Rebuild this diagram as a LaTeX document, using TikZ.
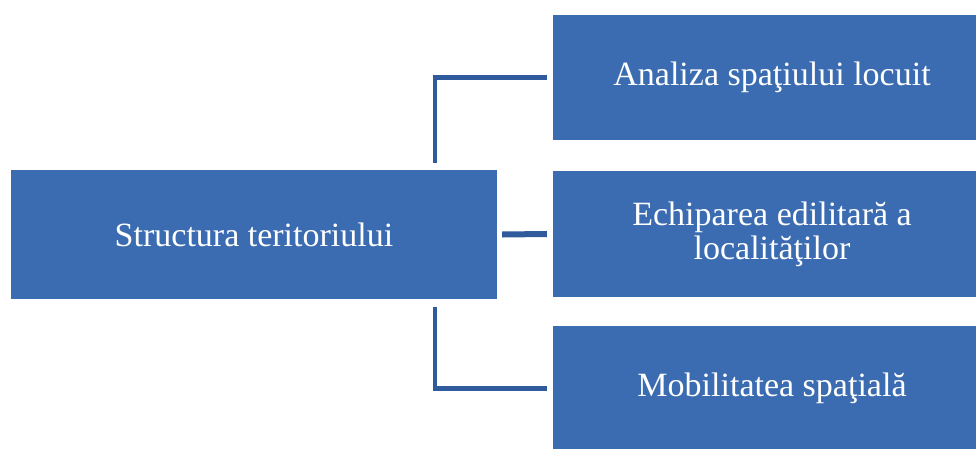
\documentclass[tikz,border=0pt]{standalone}
\usepackage{fontspec}
\setmainfont{Liberation Serif}
\definecolor{boxblue}{RGB}{59,108,177}
\definecolor{lineblue}{RGB}{47,90,155}
\begin{document}
\begin{tikzpicture}[x=1pt,y=-1pt,
  box/.style={fill=boxblue, draw=none, text=white, font=\fontsize{34}{34}\selectfont,
    align=center, inner sep=0pt},
  leftbox/.style={box, minimum width=486pt, minimum height=129pt},
  rightbox/.style={box, minimum width=438pt, minimum height=125pt},
  conn/.style={draw=lineblue, line width=4.5pt, line join=miter}]
\useasboundingbox (0,0) rectangle (976,449);
\node[leftbox] (L) at (254,234.5) {\raisebox{-2pt}{Structura teritoriului}};
\node[rightbox] (A) at (772,77.5) {Analiza spaţiului locuit};
\node[rightbox, minimum height=126pt] (B) at (772,234) {Echiparea edilitară a\\localităţilor};
\node[rightbox] (C) at (772,388.5) {Mobilitatea spaţială};
\draw[conn] ([xshift=-62pt,yshift=7pt]L.north east) |- ([xshift=-6pt]A.west);
\draw[conn] ([xshift=-62pt,yshift=-8pt]L.south east) |- ([xshift=-6pt]C.west);
\draw[conn, line width=6pt] ([xshift=5pt]L.east) -- ([xshift=-6pt]B.west);
\end{tikzpicture}
\end{document}
